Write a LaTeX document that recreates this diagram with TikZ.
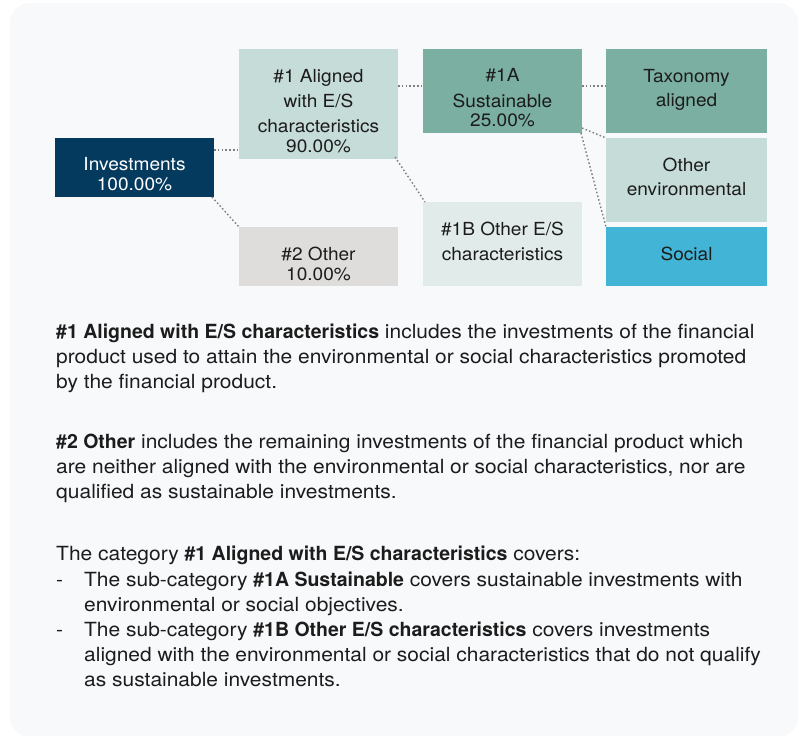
\documentclass[tikz,border=0pt]{standalone}
\usepackage{fontspec}
\setmainfont{TeX Gyre Heros}[FakeStretch=1.075,BoldFeatures={FakeStretch=1.0}]
\newfontfamily\boxfont{TeX Gyre Heros}[FakeStretch=1.06]
\usetikzlibrary{calc}
\definecolor{bgc}{HTML}{F8F9FB}
\definecolor{navy}{HTML}{053A5F}
\definecolor{mint}{HTML}{C6DCD8}
\definecolor{greyb}{HTML}{DEDDDB}
\definecolor{teal}{HTML}{7AAFA1}
\definecolor{pale}{HTML}{E1EBE9}
\definecolor{sky}{HTML}{42B4D6}
\definecolor{ink}{HTML}{1C1C1C}
\definecolor{conn}{HTML}{808080}
\tikzset{
  box/.style={inner sep=0, outer sep=0, anchor=north west, draw=none},
  lbl/.style={inner sep=0, anchor=north, align=center, text=ink,
    font=\boxfont\fontsize{18}{25.3}\selectfont},
  para/.style={inner sep=0, anchor=north west, align=left, text=ink,
    font=\fontsize{19.5}{25.2}\selectfont},
  con/.style={draw=conn, line width=1.4pt, dash pattern=on 1.6pt off 2.2pt},
}
\newcommand{\fst}{\rule{0pt}{20pt}}
\newcommand{\ind}{\makebox[28pt][l]{}}
\newcommand{\dsh}{\makebox[28pt][l]{-}}
\begin{document}
\begin{tikzpicture}[x=1pt,y=-1pt]
\useasboundingbox (0,0) rectangle (799,735);
\fill[white] (0,0) rectangle (799,735);
\fill[bgc, rounded corners=20pt] (10,3) rectangle (798,737);

% boxes
\node[box, fill=navy, minimum width=159pt, minimum height=59pt] (inv) at (55,138) {};
\node[box, fill=mint, minimum width=159pt, minimum height=110pt] (a1) at (239,49) {};
\node[box, fill=greyb, minimum width=159pt, minimum height=59pt] (oth) at (239,227) {};
\node[box, fill=teal, minimum width=159pt, minimum height=84pt] (s1a) at (423,49) {};
\node[box, fill=pale, minimum width=159pt, minimum height=84pt] (b1) at (423,202) {};
\node[box, fill=teal, minimum width=161pt, minimum height=84pt] (tax) at (606,49) {};
\node[box, fill=mint, minimum width=161pt, minimum height=84pt] (env) at (606,138) {};
\node[box, fill=sky, minimum width=161pt, minimum height=59pt] (soc) at (606,227) {};

% box texts
\node[lbl, text=white] (invt) at (134.5,150.7) {\fst Investments\\[-5.3pt]100.00\%};
\node[lbl] (a1t) at (318.5,62) {\fst\#1 Aligned\\with E/S\\characteristics\\[-5.6pt]90.00\%};
\node[lbl] (otht) at (318.5,240) {\fst\#2 Other\\[-5.3pt]10.00\%};
\node[lbl] (s1at) at (502.5,61.7) {\fst\#1A\\Sustainable\\[-5.6pt]25.00\%};
\node[lbl] (b1t) at (502.5,215) {\fst\#1B Other E/S\\[-0.3pt]characteristics};
\node[lbl] (taxt) at (686.5,62.3) {\fst Taxonomy\\[-0.9pt]aligned};
\node[lbl] (envt) at (686.5,151) {\fst Other\\[-0.6pt]environmental};
\node[lbl] (soct) at (686.5,240) {\fst Social};

% connectors
\coordinate (c1) at ([yshift=-12pt]inv.north east);
\coordinate (c2) at ([yshift=-37pt]a1.north east);
\coordinate (c3) at ([yshift=-37pt]s1a.north east);
\coordinate (c4) at ([yshift=5pt]s1a.south east);
\draw[con] (c1) -- (c1 -| a1.west);
\draw[con] ([xshift=-2pt]inv.south east) -- (oth.north west);
\draw[con] (c2) -- (c2 -| s1a.west);
\draw[con] ([xshift=-3pt,yshift=2pt]a1.south east) -- ([xshift=2pt]b1.north west);
\draw[con] (c3) -- (c3 -| tax.west);
\draw[con] (c4) -- (env.north west);
\draw[con] ([xshift=-1pt]s1a.south east) -- (soc.north west);

% paragraphs
\node[para] (p1) at (56,318.3) {\fst\textbf{\#1 Aligned with E/S characteristics} includes the investments of the financial\\
product used to attain the environmental or social characteristics promoted\\
by the financial product.};
\node[para] (p2) at (56,428.3) {\fst\textbf{\#2 Other} includes the remaining investments of the financial product which\\
are neither aligned with the environmental or social characteristics, nor are\\
qualified as sustainable investments.};
\node[para] (p3) at (56,540.7) {\fst The category \textbf{\#1 Aligned with E/S characteristics} covers:\\
\dsh The sub-category \textbf{\#1A Sustainable} covers sustainable investments with\\
\ind environmental or social objectives.\\
\dsh The sub-category \textbf{\#1B Other E/S characteristics} covers investments\\
\ind aligned with the environmental or social characteristics that do not qualify\\
\ind as sustainable investments.};
\end{tikzpicture}
\end{document}
